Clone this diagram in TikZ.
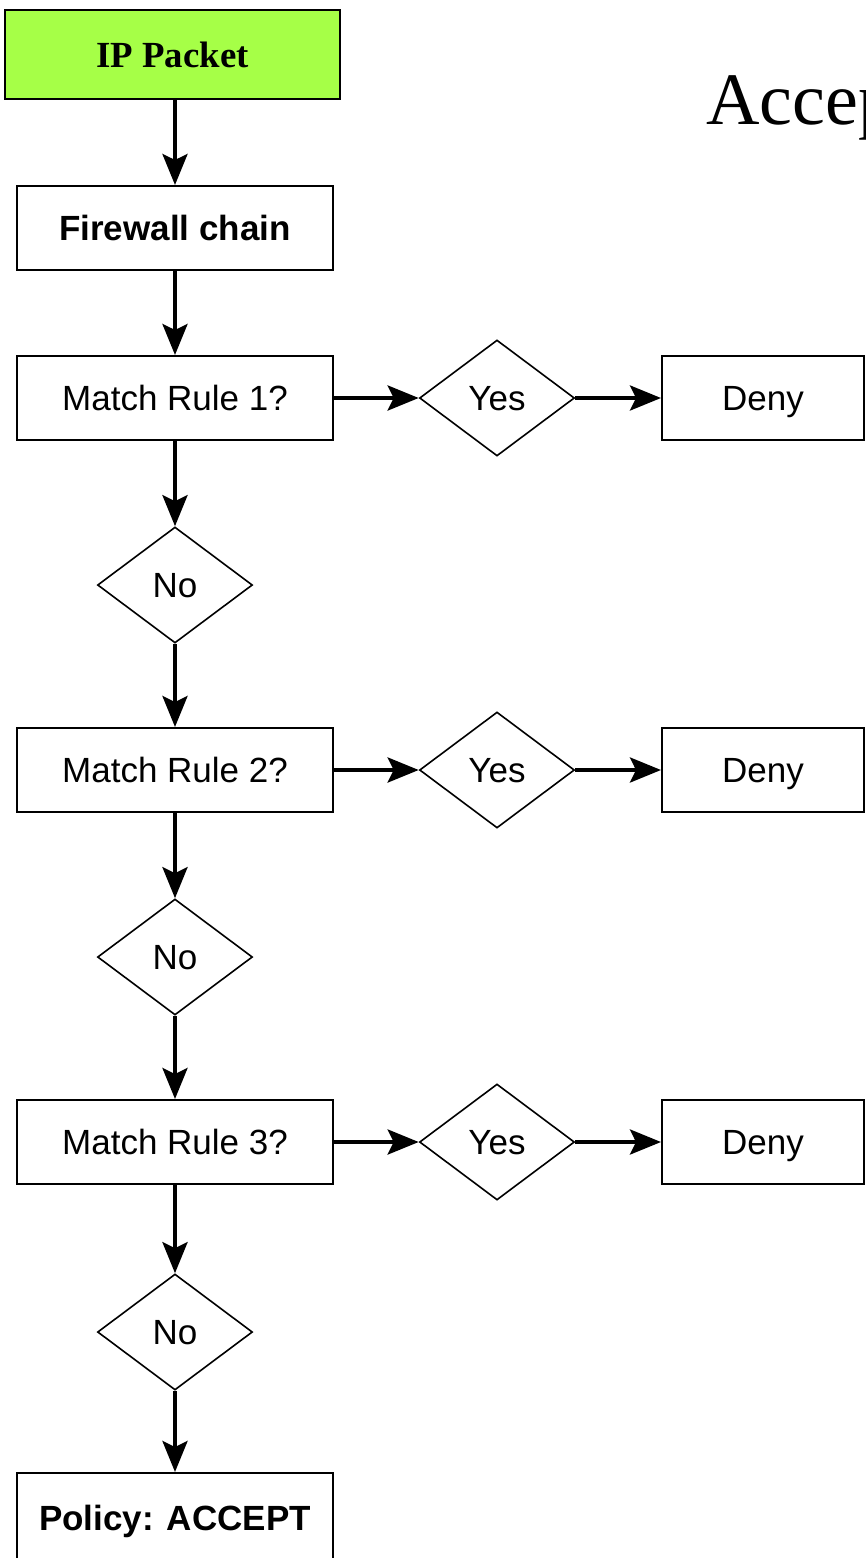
\documentclass[tikz,border=0pt]{standalone}
\usepackage{fontspec}
\setmainfont{Liberation Sans}
\newfontfamily\timesfont{Liberation Serif}
\usetikzlibrary{shapes.geometric,arrows.meta}
\definecolor{packetgreen}{RGB}{166,255,71}
\tikzset{
  box/.style={draw,line width=1pt,minimum width=158pt,minimum height=42pt,inner sep=0pt,text height=14pt,text depth=1.5pt,font=\fontsize{17.5}{20}\selectfont},
  choice/.style={draw,diamond,line width=0.8pt,minimum width=77.5pt,minimum height=58pt,inner sep=0pt,text height=14pt,text depth=1.5pt,font=\fontsize{17.5}{20}\selectfont},
  flow/.style={line width=2pt,-{Stealth[length=15.5pt,width=12.5pt,inset=3pt]}}
}
\begin{document}
\begin{tikzpicture}[x=0.5pt,y=-0.5pt]
\clip (0,0) rectangle (866,1558);
\useasboundingbox (0,0) rectangle (866,1558);
\node[box,fill=packetgreen,minimum width=167.5pt,minimum height=44.5pt,font=\timesfont\bfseries\fontsize{18.4}{20}\selectfont] (packet) at (172.5,54.5) {IP Packet};
\node[font=\timesfont\fontsize{37}{40}\selectfont,anchor=base west,inner sep=0pt] (accept) at (706,124) {Accep};
\node[box,font=\bfseries\fontsize{17.5}{20}\selectfont] (chain) at (175,228) {Firewall chain};
% rule 1
\node[box] (rule1) at (175,398) {Match Rule 1?};
\node[choice] (yes1) at (497,398) {Yes};
\node[box,minimum width=101pt] (deny1) at (763,398) {Deny};
\node[choice] (no1) at (175,585) {No};
% rule 2
\node[box] (rule2) at (175,770) {Match Rule 2?};
\node[choice] (yes2) at (497,770) {Yes};
\node[box,minimum width=101pt] (deny2) at (763,770) {Deny};
\node[choice] (no2) at (175,957) {No};
% rule 3
\node[box] (rule3) at (175,1142) {Match Rule 3?};
\node[choice] (yes3) at (497,1142) {Yes};
\node[box,minimum width=101pt] (deny3) at (763,1142) {Deny};
\node[choice] (no3) at (175,1332) {No};
\node[box,minimum height=45pt,font=\bfseries\fontsize{17.5}{20}\selectfont] (policy) at (175,1518) {Policy: ACCEPT};
\draw[flow] (chain.north |- packet.south) -- (chain);
\draw[flow] (chain) -- (rule1);
\foreach \i in {1,2,3}{
  \draw[flow] (rule\i) -- (yes\i);
  \draw[flow] (yes\i) -- (deny\i);
  \draw[flow] (rule\i) -- (no\i);
}
\draw[flow] (no1) -- (rule2);
\draw[flow] (no2) -- (rule3);
\draw[flow] (no3) -- (policy);
\end{tikzpicture}
\end{document}
